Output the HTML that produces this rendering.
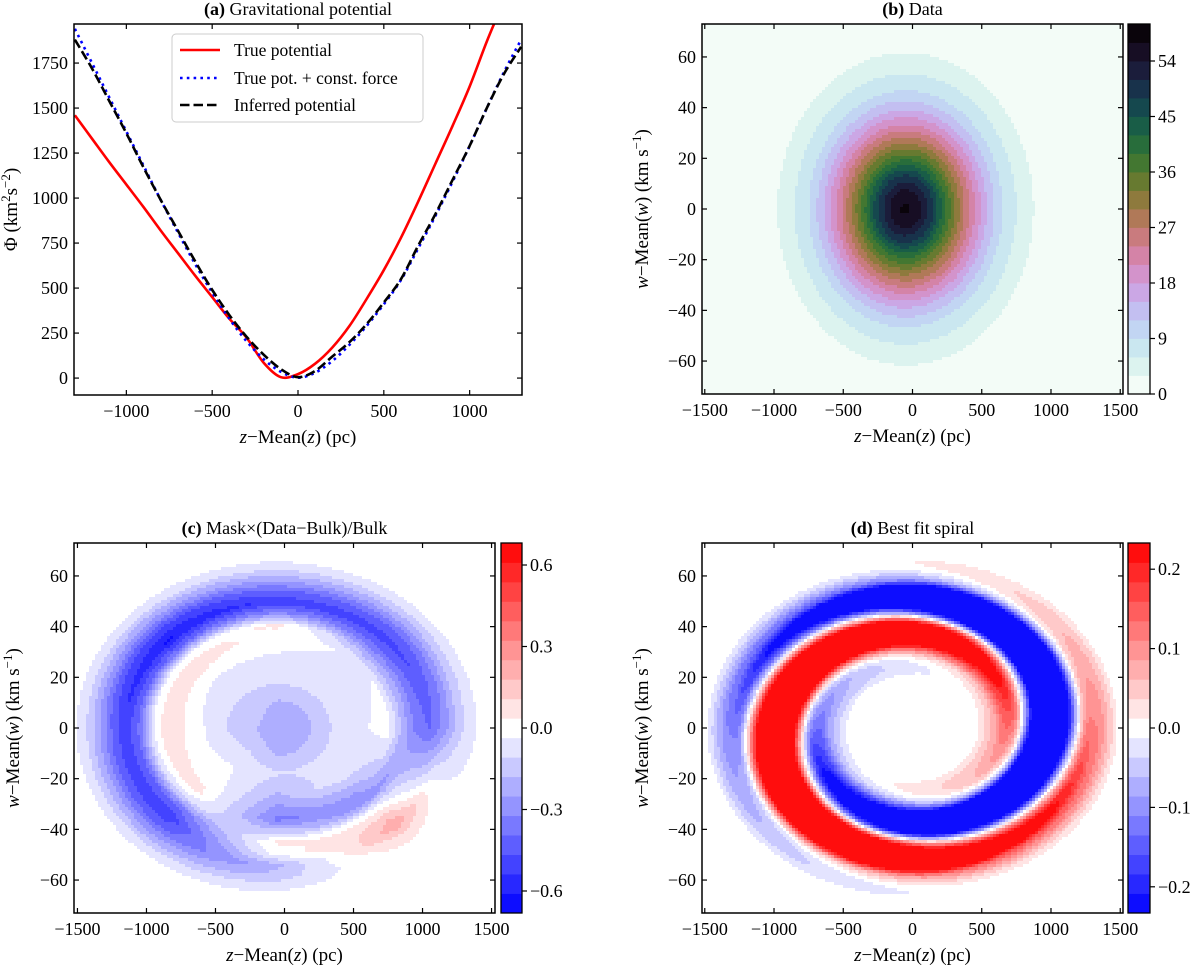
<!DOCTYPE html>
<html><head><meta charset="utf-8"><title>Phase spiral figure</title>
<style>
html,body{margin:0;padding:0;background:#fff;}
svg{display:block;font-family:"Liberation Serif","Times New Roman",Times,"DejaVu Serif",serif;}
svg text{font-family:"Liberation Serif","Times New Roman",Times,"DejaVu Serif",serif;}
</style></head>
<body>
<svg id="fig" width="1200" height="965" viewBox="0 0 1200 965" font-family="'Liberation Serif', 'Times New Roman', Times, serif" xmlns="http://www.w3.org/2000/svg"></svg>
<script>
// ---------- Panel (a) data: potential curves ----------
const zGrid = [-1300,-1200,-1100,-1000,-900,-800,-700,-600,-500,-400,-300,-200,-100,0,100,200,300,400,500,600,700,800,900,1000,1100,1200,1300];
const truePotential = [1460,1330,1200,1075,950,820,695,570,450,330,225,85,5,22,80,170,290,440,600,780,980,1190,1400,1620,1870,2100,2350];
const truePlusForce = [1940,1750,1560,1370,1180,990,810,635,475,330,205,105,35,2,30,95,185,290,410,545,720,900,1090,1290,1500,1700,1880];
const inferredPotential = [1880,1720,1540,1360,1170,990,820,650,490,350,230,130,50,5,40,120,200,300,420,550,735,910,1100,1290,1500,1690,1840];
const aXTicks = [-1000,-500,0,500,1000];
const aYTicks = [0,250,500,750,1000,1250,1500,1750];

// ---------- Panel (b) data: radial count profile ----------
const bRadii = [0,100,200,300,400,500,600,700,800,900,1000,1100,1200];
const bCounts = [58,55,48,38,29,21,14,9,6,3.5,1.5,0.3,0];
const bLevelTicks = [0,9,18,27,36,45,54];

// ---------- Panel (c) data: polar table of residual ----------
const cAngles = [0,45,90,135,180,225,270,315];
const cRadii = [0,0.2,0.4,0.6,0.8,0.9,1.0,1.1,1.2,1.3,1.4,1.5];
const cAng0   = [-0.25,-0.2,-0.1,-0.05,0.0,-0.2,-0.35,-0.4,-0.3,-0.15,-0.06,0];
const cAng45  = [-0.25,-0.2,-0.1,-0.07,-0.05,-0.2,-0.38,-0.5,-0.4,-0.22,-0.08,0];
const cAng90  = [-0.25,-0.2,-0.1,-0.05,0.0,0.05,-0.3,-0.52,-0.4,-0.22,-0.08,0];
const cAng135 = [-0.25,-0.15,-0.1,-0.05,0.08,0.0,-0.4,-0.62,-0.5,-0.28,-0.1,0];
const cAng180 = [-0.25,-0.15,-0.1,0.0,0.1,-0.05,-0.38,-0.52,-0.4,-0.22,-0.08,0];
const cAng225 = [-0.25,-0.15,-0.05,0.0,0.05,-0.1,-0.4,-0.52,-0.42,-0.25,-0.1,0];
const cAng270 = [-0.25,-0.2,-0.1,-0.2,-0.35,-0.15,0.05,0.0,-0.2,-0.15,-0.05,0];
const cAng315 = [-0.25,-0.2,-0.1,-0.05,-0.25,-0.3,0.0,0.15,0.25,0.1,0.02,0];
const cLevelTicks = [-0.6,-0.3,0.0,0.3,0.6];

// ---------- Panel (d) data: spiral model ----------
const dRadii = [0.45,0.5,0.6,0.7,0.8,0.9,1.0,1.1,1.2,1.3,1.4,1.5];
const dAmp = [0,0.03,0.08,0.2,0.4,0.5,0.5,0.45,0.35,0.15,0.07,0];
const dPhaseDeg = [-60,-40,0,50,100,140,190,230,270,320,360,400];
const dLevelTicks = [-0.2,-0.1,0.0,0.1,0.2];

const NS = 'http://www.w3.org/2000/svg';
const svg = document.getElementById('fig');
function el(tag, parent){ const e = document.createElementNS(NS, tag); parent.appendChild(e); return e; }
function at(e, o){ for (const k in o) e.setAttribute(k, o[k]); return e; }

function interp1(xs, ys, x){
  if (x <= xs[0]) return ys[0];
  if (x >= xs[xs.length-1]) return ys[ys.length-1];
  for (let i=0;i<xs.length-1;i++){
    if (x <= xs[i+1]){ const t=(x-xs[i])/(xs[i+1]-xs[i]); return ys[i]+t*(ys[i+1]-ys[i]); }
  }
  return ys[ys.length-1];
}
function cubehelixR(x){
  x = 1 - x;
  const s=0.5, r=-1.5, h=1.0;
  const a = h*x*(1-x)/2, phi = 2*Math.PI*(s/3 + r*x);
  const c = Math.cos(phi), sn = Math.sin(phi);
  const R = x + a*(-0.14861*c + 1.78277*sn);
  const G = x + a*(-0.29227*c - 0.90649*sn);
  const B = x + a*(1.97294*c);
  const f = v => Math.round(Math.max(0,Math.min(1,v))*255);
  return 'rgb('+f(R)+','+f(G)+','+f(B)+')';
}
function bwr(t){
  const f = v => Math.round(Math.max(0,Math.min(1,v))*255);
  if (t < 0.5){ const k = t*2; return 'rgb('+f(k)+','+f(k)+',255)'; }
  const k = (t-0.5)*2; return 'rgb(255,'+f(1-k)+','+f(1-k)+')';
}

function makeAxes(p){
  p.sx = v => p.x0 + (v - p.xmin)/(p.xmax - p.xmin)*(p.x1 - p.x0);
  p.sy = v => p.y1 - (v - p.ymin)/(p.ymax - p.ymin)*(p.y1 - p.y0);
  const g = el('g', svg);
  
  
  p.g = g;
  const cp = at(el('clipPath', g), {id: p.name+'-clip'});
  at(el('rect', cp), {x:p.x0, y:p.y0, width:p.x1-p.x0, height:p.y1-p.y0});
  return g;
}
function drawFrame(p, xticks, yticks){
  const g = p.g;
  const tg = el('g', g);
  
  
  xticks.forEach(v => {
    const x = p.sx(v);
    const t1 = at(el('line', tg), {x1:x, x2:x, y1:p.y1, y2:p.y1-5, stroke:'#000', 'stroke-width':1.2});
    
    
    const t2 = at(el('line', tg), {x1:x, x2:x, y1:p.y0, y2:p.y0+5, stroke:'#000', 'stroke-width':1.2});
    
    
    const lb = at(el('text', tg), {x:x, y:p.y1+22, 'text-anchor':'middle', 'font-size':18});
    
    
    lb.textContent = (v < 0 ? '\u2212' + Math.abs(v) : String(v));
  });
  yticks.forEach(v => {
    const y = p.sy(v);
    const t1 = at(el('line', tg), {x1:p.x0, x2:p.x0+5, y1:y, y2:y, stroke:'#000', 'stroke-width':1.2});
    
    
    const t2 = at(el('line', tg), {x1:p.x1, x2:p.x1-5, y1:y, y2:y, stroke:'#000', 'stroke-width':1.2});
    
    
    const lb = at(el('text', tg), {x:p.x0-6, y:y+6, 'text-anchor':'end', 'font-size':18});
    
    
    lb.textContent = (v < 0 ? '\u2212' + Math.abs(v) : String(v));
  });
  const fr = at(el('rect', g), {x:p.x0, y:p.y0, width:p.x1-p.x0, height:p.y1-p.y0, fill:'none', stroke:'#000', 'stroke-width':1.5});
  
  
}
function drawTitle(p, bold, rest){
  const t = at(el('text', p.g), {x:(p.x0+p.x1)/2, y:p.y0-9, 'text-anchor':'middle', 'font-size':18});
  
  
  const b = at(el('tspan', t), {'font-weight':'bold'}); b.textContent = bold;
  const r = el('tspan', t); r.textContent = rest;
}
function drawXLabel(p){
  const t = at(el('text', p.g), {x:(p.x0+p.x1)/2, y:p.y1+48, 'text-anchor':'middle', 'font-size':19});
  
  
  const a = at(el('tspan', t), {'font-style':'italic'}); a.textContent = 'z';
  const b = el('tspan', t); b.textContent = '\u2212Mean(';
  const c = at(el('tspan', t), {'font-style':'italic'}); c.textContent = 'z';
  const d = el('tspan', t); d.textContent = ') (pc)';
}
function drawWLabel(p, cx){
  const cy = (p.y0+p.y1)/2;
  const t = at(el('text', p.g), {x:cx, y:cy, 'text-anchor':'middle', 'font-size':19, transform:'rotate(-90 '+cx+' '+cy+')'});
  
  
  const a = at(el('tspan', t), {'font-style':'italic'}); a.textContent = 'w';
  const b = el('tspan', t); b.textContent = '\u2212Mean(';
  const c = at(el('tspan', t), {'font-style':'italic'}); c.textContent = 'w';
  const d = el('tspan', t); d.textContent = ') (km s';
  const e = at(el('tspan', t), {'baseline-shift':'super','font-size':13}); e.textContent = '\u22121';
  const f = el('tspan', t); f.textContent = ')';
}

function heatmap(p, fn, vmin, vmax, nLev, colorFn){
  const g = at(el('g', p.g), {'clip-path':'url(#'+p.name+'-clip)'});
  
  
  const step = (vmax-vmin)/nLev;
  const colors = [];
  for (let k=0;k<nLev;k++) colors.push(colorFn((k+0.5)/nLev));
  const cs = 3;
  for (let y=p.y0; y<p.y1; y+=cs){
    let runStart = p.x0, runCol = null;
    for (let x=p.x0; x<p.x1+cs; x+=cs){
      let col = null;
      if (x < p.x1){
        const zv = p.xmin + (x+cs/2-p.x0)/(p.x1-p.x0)*(p.xmax-p.xmin);
        const wv = p.ymax - (y+cs/2-p.y0)/(p.y1-p.y0)*(p.ymax-p.ymin);
        const v = fn(zv, wv);
        let k = Math.floor((v - vmin)/step);
        k = Math.max(0, Math.min(nLev-1, k));
        col = colors[k];
      }
      if (col !== runCol){
        if (runCol !== null){
          const r = at(el('rect', g), {x:runStart, y:y, width:x-runStart+0.5, height:cs+0.5, fill:runCol});
          
          
        }
        runStart = x; runCol = col;
      }
    }
  }
}
function colorbar(p, cx0, cx1, vmin, vmax, nLev, colorFn, ticks, fmt){
  const g = el('g', p.g);
  
  
  const sy = v => p.y1 - (v-vmin)/(vmax-vmin)*(p.y1-p.y0);
  const step = (vmax-vmin)/nLev;
  for (let k=0;k<nLev;k++){
    const r = at(el('rect', g), {x:cx0, y:sy(vmin+(k+1)*step), width:cx1-cx0, height:sy(vmin+k*step)-sy(vmin+(k+1)*step)+0.4, fill:colorFn((k+0.5)/nLev)});
    
    
  }
  const fr = at(el('rect', g), {x:cx0, y:p.y0, width:cx1-cx0, height:p.y1-p.y0, fill:'none', stroke:'#000', 'stroke-width':1.3});
  
  
  ticks.forEach(v => {
    const y = sy(v);
    const t = at(el('line', g), {x1:cx1, x2:cx1+5, y1:y, y2:y, stroke:'#000', 'stroke-width':1.2});
    
    
    const l = at(el('text', g), {x:cx1+8, y:y+6, 'font-size':18});
    
    
    l.textContent = fmt(v);
  });
}
const fmt1 = v => (v < 0 ? '\u2212' : '') + Math.abs(v).toFixed(1);

// ================= Panel (a) =================
const A = {name:'panel-a', x0:74, x1:522, y0:24, y1:395, xmin:-1305, xmax:1305, ymin:-94, ymax:1967};
makeAxes(A);
function smoothPath(xs, ys, p){
  const pts = xs.map((x,i)=>[p.sx(x), p.sy(ys[i])]);
  let d = 'M'+pts[0][0].toFixed(2)+','+pts[0][1].toFixed(2);
  for (let i=0;i<pts.length-1;i++){
    const p0 = pts[Math.max(0,i-1)], p1 = pts[i], p2 = pts[i+1], p3 = pts[Math.min(pts.length-1,i+2)];
    const c1 = [p1[0]+(p2[0]-p0[0])/6, p1[1]+(p2[1]-p0[1])/6];
    const c2 = [p2[0]-(p3[0]-p1[0])/6, p2[1]-(p3[1]-p1[1])/6];
    d += ' C'+c1[0].toFixed(2)+','+c1[1].toFixed(2)+' '+c2[0].toFixed(2)+','+c2[1].toFixed(2)+' '+p2[0].toFixed(2)+','+p2[1].toFixed(2);
  }
  return d;
}
const aLines = el('g', A.g);
at(aLines, {'clip-path':'url(#panel-a-clip)'});


const lineRed = at(el('path', aLines), {d:smoothPath(zGrid, truePotential, A), fill:'none', stroke:'#ff0000', 'stroke-width':2.6});


const lineBlue = at(el('path', aLines), {d:smoothPath(zGrid, truePlusForce, A), fill:'none', stroke:'#0000ff', 'stroke-width':2.6, 'stroke-dasharray':'2.6 4.2'});


const lineBlack = at(el('path', aLines), {d:smoothPath(zGrid, inferredPotential, A), fill:'none', stroke:'#000', 'stroke-width':2.6, 'stroke-dasharray':'9.5 4'});


drawFrame(A, aXTicks, aYTicks);
drawTitle(A, '(a)', ' Gravitational potential');
drawXLabel(A);
(function(){
  const cx = 17, cy = (A.y0+A.y1)/2;
  const t = at(el('text', A.g), {x:cx, y:cy, 'text-anchor':'middle', 'font-size':19, transform:'rotate(-90 '+cx+' '+cy+')'});
  
  
  const a = el('tspan', t); a.textContent = '\u03A6 (km';
  const b = at(el('tspan', t), {'baseline-shift':'super','font-size':13}); b.textContent = '2';
  const c = el('tspan', t); c.textContent = 's';
  const d = at(el('tspan', t), {'baseline-shift':'super','font-size':13}); d.textContent = '\u22122';
  const e = el('tspan', t); e.textContent = ')';
})();
(function(){
  const lg = el('g', A.g);
  
  
  const bx = at(el('rect', lg), {x:172, y:34, width:251, height:88, rx:4, fill:'#fff', 'fill-opacity':0.85, stroke:'#cccccc', 'stroke-width':1});
  
  
  const rows = [
    {y:50, stroke:'#ff0000', dash:'', label:'True potential', name:'legend-entry-true-potential'},
    {y:78, stroke:'#0000ff', dash:'2.6 4.2', label:'True pot. + const. force', name:'legend-entry-const-force'},
    {y:105, stroke:'#000', dash:'9.5 4', label:'Inferred potential', name:'legend-entry-inferred'}
  ];
  rows.forEach(r => {
    const gr = el('g', lg);
    
    
    const ln = at(el('line', gr), {x1:180, x2:220, y1:r.y, y2:r.y, stroke:r.stroke, 'stroke-width':2.6});
    if (r.dash) ln.setAttribute('stroke-dasharray', r.dash);
    
    
    const tx = at(el('text', gr), {x:234, y:r.y+6, 'font-size':17.5});
    
    
    tx.textContent = r.label;
  });
})();

// ================= Panel (b) =================
const B = {name:'panel-b', x0:702, x1:1123, y0:24, y1:394, xmin:-1520, xmax:1520, ymin:-73, ymax:73};
makeAxes(B);
heatmap(B, (z,w) => {
  const r = Math.sqrt((z+50)*(z+50) + (w*15)*(w*15));
  return interp1(bRadii, bCounts, r);
}, 0, 60, 20, cubehelixR);
drawFrame(B, [-1500,-1000,-500,0,500,1000,1500], [-60,-40,-20,0,20,40,60]);
drawTitle(B, '(b)', ' Data');
drawXLabel(B);
drawWLabel(B, 648);
colorbar(B, 1128, 1150, 0, 60, 20, cubehelixR, bLevelTicks, v => String(v));

// ================= Panel (c) =================
const C = {name:'panel-c', x0:74, x1:495, y0:543, y1:913, xmin:-1525, xmax:1525, ymin:-73, ymax:73};
makeAxes(C);
const cTable = [cAng0,cAng45,cAng90,cAng135,cAng180,cAng225,cAng270,cAng315];
heatmap(C, (z,w) => {
  const u = (z+50)/1000, v = w/45;
  const r = Math.sqrt(u*u+v*v);
  if (r > 1.5) return 0;
  let th = Math.atan2(v,u)*180/Math.PI; if (th < 0) th += 360;
  const i0 = Math.floor(th/45) % 8, i1 = (i0+1) % 8, t = (th - i0*45)/45;
  const a = interp1(cRadii, cTable[i0], r), b = interp1(cRadii, cTable[i1], r);
  return a*(1-t) + b*t;
}, -0.681, 0.681, 19, bwr);
drawFrame(C, [-1500,-1000,-500,0,500,1000,1500], [-60,-40,-20,0,20,40,60]);
drawTitle(C, '(c)', ' Mask\u00D7(Data\u2212Bulk)/Bulk');
drawXLabel(C);
drawWLabel(C, 19);
colorbar(C, 501, 522, -0.681, 0.681, 19, bwr, cLevelTicks, fmt1);

// ================= Panel (d) =================
const D = {name:'panel-d', x0:702, x1:1123, y0:543, y1:913, xmin:-1520, xmax:1520, ymin:-73, ymax:73};
makeAxes(D);
heatmap(D, (z,w) => {
  const u = z/1000, v = w/45;
  const r = Math.sqrt(u*u+v*v);
  const th = Math.atan2(v,u)*180/Math.PI;
  const amp = interp1(dRadii, dAmp, r);
  const ph = interp1(dRadii, dPhaseDeg, r);
  return amp*Math.cos((th - ph)*Math.PI/180);
}, -0.233, 0.233, 19, bwr);
drawFrame(D, [-1500,-1000,-500,0,500,1000,1500], [-60,-40,-20,0,20,40,60]);
drawTitle(D, '(d)', ' Best fit spiral');
drawXLabel(D);
drawWLabel(D, 648);
colorbar(D, 1128, 1150, -0.233, 0.233, 19, bwr, dLevelTicks, fmt1);
</script>
</body></html>
